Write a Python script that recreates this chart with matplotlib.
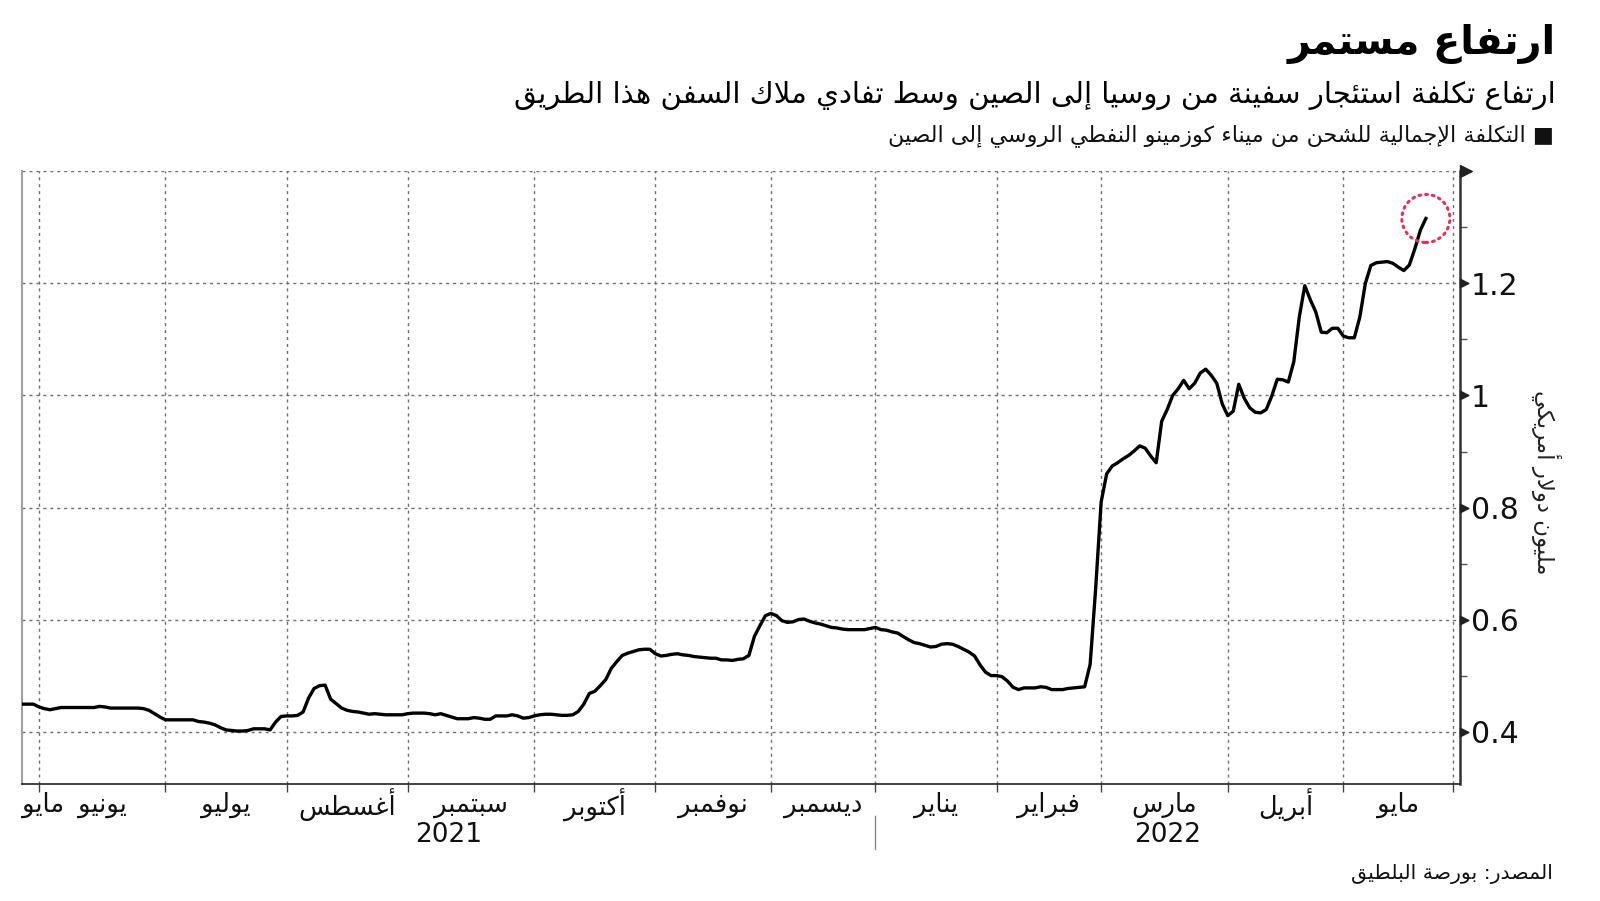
import numpy as np
import matplotlib
matplotlib.use("Agg")
import matplotlib.pyplot as plt
from matplotlib.patches import Circle
from matplotlib.offsetbox import DrawingArea, AnnotationBbox
from matplotlib.path import Path

# ---------------- data ----------------
title = "ارتفاع مستمر"
subtitle = "ارتفاع تكلفة استئجار سفينة من روسيا إلى الصين وسط تفادي ملاك السفن هذا الطريق"
legend_label = "■ التكلفة الإجمالية للشحن من ميناء كوزمينو النفطي الروسي إلى الصين"
y_label = "مليون دولار أمريكي"
source = "المصدر: بورصة البلطيق"

month_names = ["مايو", "يونيو", "يوليو", "أغسطس", "سبتمبر", "أكتوبر", "نوفمبر",
               "ديسمبر", "يناير", "فبراير", "مارس", "أبريل", "مايو"]
# trading days plotted in each month (May 2021 partial ... May 2022)
month_days = [3, 23, 22, 22, 23, 22, 21, 19, 22, 19, 23, 21, 20]
years = ["2021", "2022"]
year_first_month = [0, 8]

# total cost, million USD, one value per trading day
cost = [
    0.449, 0.449, 0.449, 0.444, 0.441, 0.439, 0.441, 0.443, 0.443, 0.443,
    0.443, 0.443, 0.443, 0.443, 0.445, 0.444, 0.442, 0.442, 0.442, 0.442,
    0.442, 0.442, 0.441, 0.438, 0.432, 0.426, 0.421, 0.421, 0.421, 0.421,
    0.421, 0.421, 0.418, 0.417, 0.415, 0.412, 0.407, 0.403, 0.402, 0.401,
    0.401, 0.402, 0.405, 0.405, 0.405, 0.403, 0.417, 0.427, 0.428, 0.428,
    0.429, 0.435, 0.460, 0.477, 0.482, 0.483, 0.458, 0.450, 0.442, 0.438,
    0.436, 0.435, 0.433, 0.431, 0.432, 0.431, 0.430, 0.430, 0.430, 0.430,
    0.432, 0.433, 0.433, 0.433, 0.432, 0.430, 0.432, 0.429, 0.426, 0.423,
    0.423, 0.423, 0.425, 0.424, 0.422, 0.422, 0.428, 0.428, 0.428, 0.430,
    0.428, 0.424, 0.425, 0.428, 0.430, 0.431, 0.431, 0.430, 0.429, 0.429,
    0.430, 0.436, 0.449, 0.468, 0.472, 0.482, 0.493, 0.513, 0.525, 0.536,
    0.540, 0.543, 0.546, 0.547, 0.547, 0.539, 0.535, 0.536, 0.538, 0.539,
    0.537, 0.536, 0.534, 0.533, 0.532, 0.531, 0.531, 0.528, 0.528, 0.527,
    0.529, 0.530, 0.536, 0.570, 0.589, 0.607, 0.611, 0.607, 0.598, 0.595,
    0.596, 0.600, 0.601, 0.597, 0.594, 0.592, 0.589, 0.586, 0.585, 0.583,
    0.582, 0.582, 0.582, 0.582, 0.584, 0.586, 0.582, 0.581, 0.578, 0.576,
    0.570, 0.564, 0.559, 0.557, 0.554, 0.551, 0.552, 0.556, 0.557, 0.556,
    0.552, 0.547, 0.542, 0.535, 0.519, 0.506, 0.500, 0.500, 0.498, 0.490,
    0.479, 0.475, 0.478, 0.478, 0.478, 0.480, 0.479, 0.475, 0.475, 0.475,
    0.477, 0.478, 0.479, 0.480, 0.520, 0.655, 0.810, 0.860, 0.874, 0.880,
    0.887, 0.893, 0.901, 0.910, 0.906, 0.892, 0.880, 0.954, 0.975, 1.000,
    1.012, 1.027, 1.012, 1.022, 1.040, 1.047, 1.036, 1.022, 0.985, 0.964,
    0.972, 1.020, 0.995, 0.978, 0.970, 0.969, 0.975, 0.999, 1.029, 1.028,
    1.024, 1.060, 1.140, 1.196, 1.171, 1.149, 1.113, 1.112, 1.120, 1.120,
    1.106, 1.103, 1.103, 1.140, 1.200, 1.232, 1.237, 1.238, 1.239, 1.236,
    1.229, 1.223, 1.233, 1.262, 1.295, 1.316,
]
y_ticks = [0.4, 0.6, 0.8, 1.0, 1.2, 1.4]
y_tick_labels = ["0.4", "0.6", "0.8", "1", "1.2", ""]
y_minor = [0.5, 0.7, 0.9, 1.1, 1.3]

# ------------- Arabic shaping (presentation forms + visual order) -------------
_FORMS = {
    'ء': (0xFE80, 1), 'آ': (0xFE81, 2), 'أ': (0xFE83, 2), 'ؤ': (0xFE85, 2),
    'إ': (0xFE87, 2), 'ئ': (0xFE89, 4), 'ا': (0xFE8D, 2), 'ب': (0xFE8F, 4),
    'ة': (0xFE93, 2), 'ت': (0xFE95, 4), 'ث': (0xFE99, 4), 'ج': (0xFE9D, 4),
    'ح': (0xFEA1, 4), 'خ': (0xFEA5, 4), 'د': (0xFEA9, 2), 'ذ': (0xFEAB, 2),
    'ر': (0xFEAD, 2), 'ز': (0xFEAF, 2), 'س': (0xFEB1, 4), 'ش': (0xFEB5, 4),
    'ص': (0xFEB9, 4), 'ض': (0xFEBD, 4), 'ط': (0xFEC1, 4), 'ظ': (0xFEC5, 4),
    'ع': (0xFEC9, 4), 'غ': (0xFECD, 4), 'ف': (0xFED1, 4), 'ق': (0xFED5, 4),
    'ك': (0xFED9, 4), 'ل': (0xFEDD, 4), 'م': (0xFEE1, 4), 'ن': (0xFEE5, 4),
    'ه': (0xFEE9, 4), 'و': (0xFEED, 2), 'ى': (0xFEEF, 2), 'ي': (0xFEF1, 4),
}
_LAM_ALEF = {'آ': 0xFEF5, 'أ': 0xFEF7, 'إ': 0xFEF9, 'ا': 0xFEFB}


def ar(text):
    out = []
    i = 0
    prev_joins = False
    while i < len(text):
        c = text[i]
        if c not in _FORMS:
            out.append(c)
            prev_joins = False
            i += 1
            continue
        nxt = text[i + 1] if i + 1 < len(text) else ''
        if c == 'ل' and nxt in _LAM_ALEF:
            out.append(chr(_LAM_ALEF[nxt] + (1 if prev_joins else 0)))
            prev_joins = False
            i += 2
            continue
        start, n = _FORMS[c]
        jp = prev_joins and n >= 2
        jn = n == 4 and nxt in _FORMS and _FORMS[nxt][1] >= 2
        if n == 1:
            f = 0
        elif jp and jn:
            f = 3
        elif jp:
            f = 1
        elif jn:
            f = 2
        else:
            f = 0
        out.append(chr(start + f))
        prev_joins = jn
        i += 1
    return ''.join(out)[::-1]


# ---------------- figure ----------------
W, H = 1600, 901
fig = plt.figure(figsize=(W / 100, H / 100), dpi=100)
fig.patch.set_facecolor("white")
plt.rcParams["font.family"] = ["DejaVu Sans"]

ax_l, ax_r, ax_t, ax_b = 22.4, 1460, 171.4, 783.7
ax = fig.add_axes([ax_l / W, 1 - ax_b / H, (ax_r - ax_l) / W, (ax_b - ax_t) / H])

x = np.arange(len(cost))
bounds = np.concatenate([[0], np.cumsum(month_days)])
ax.set_xlim(0, bounds[-1] + 1.2)
ax.set_ylim(0.307, 1.4)

grid_kw = dict(color="#6e6e6e", lw=1.0, ls=(0, (2.2, 2.8)), zorder=1)
for b in bounds[1:]:
    ax.axvline(b, **grid_kw)
for yt in y_ticks:
    ax.axhline(yt, **grid_kw)

ax.plot(x, cost, color="black", lw=2.4, solid_joinstyle="round", zorder=3)

# spines
ax.spines["top"].set_visible(False)
ax.spines["left"].set_color("#a0a0a0")
ax.spines["left"].set_linewidth(1.5)
ax.spines["bottom"].set_color("#222222")
ax.spines["bottom"].set_linewidth(1.2)
ax.spines["right"].set_color("#333333")
ax.spines["right"].set_linewidth(1.8)

# y axis on the right
ax.yaxis.tick_right()
ax.set_yticks(y_ticks)
ax.set_yticklabels(y_tick_labels)
ax.set_yticks(y_minor, minor=True)
ax.tick_params(axis="y", which="major", length=0, pad=8, labelsize=21.5,
               labelcolor="#111111")
ax.tick_params(axis="y", which="minor", length=5, width=1, color="#555555",
               direction="out")
ax.tick_params(axis="y", left=False, which="both")

tri = Path([(0, -0.5), (0, 0.5), (1, 0), (0, -0.5)],
           [Path.MOVETO, Path.LINETO, Path.LINETO, Path.CLOSEPOLY])
ytrans = ax.get_yaxis_transform()
ax.plot([1.0] * (len(y_ticks) - 1), y_ticks[:-1], ls="none", marker=tri,
        ms=12, color="#222222", transform=ytrans, clip_on=False, zorder=5)
ax.plot([1.0], [y_ticks[-1]], ls="none", marker=tri, ms=17, color="#222222",
        transform=ytrans, clip_on=False, zorder=5)

# x axis
ax.set_xticks(bounds[1:])
ax.set_xticklabels([])
ax.tick_params(axis="x", length=6, width=1, color="#444444", direction="out")

xtrans = ax.get_xaxis_transform()
ax_h = ax_b - ax_t
lab_y = -(805 - ax_b) / ax_h
for i, name in enumerate(month_names):
    if i == 0:
        ax.text(0, lab_y, ar(name), transform=xtrans, ha="left", va="center",
                fontsize=18.5, color="#111111")
    else:
        ax.text((bounds[i] + bounds[i + 1]) / 2, lab_y, ar(name), transform=xtrans,
                ha="center", va="center", fontsize=18.5, color="#111111")

year_y = -(835 - ax_b) / ax_h
year_edges = [0, bounds[year_first_month[1]], bounds[-1] + 1.2]
for k, yr in enumerate(years):
    ax.text((year_edges[k] + year_edges[k + 1]) / 2, year_y, yr, transform=xtrans,
            ha="center", va="center", fontsize=19, color="#111111")
sep = bounds[year_first_month[1]]
ax.plot([sep, sep], [-(816 - ax_b) / ax_h, -(849 - ax_b) / ax_h], color="#888888",
        lw=1, transform=xtrans, clip_on=False)

# y label
ax.text(1546 / W, 1 - 482 / H, ar(y_label), transform=fig.transFigure, rotation=270,
        ha="center", va="center", fontsize=16.5, color="#222222")

# dotted highlight circle around the last value
da = DrawingArea(40, 40, 0, 0)
da.add_artist(Circle((20, 20), 17.3, fill=False, edgecolor="#e0325a", lw=2.2,
                     ls=(0, (0.6, 1.6)), capstyle="round"))
ab = AnnotationBbox(da, (x[-1], cost[-1]), xycoords="data", frameon=False,
                    box_alignment=(0.5, 0.5), pad=0)
ax.add_artist(ab)

# titles
fig.text(1556 / W, 1 - 44 / H, ar(title), ha="right", va="center", fontsize=28.5,
         fontweight="bold", color="black")
fig.text(1556 / W, 1 - 95 / H, ar(subtitle), ha="right", va="center", fontsize=21,
         color="black")
fig.text(1554 / W, 1 - 136 / H, ar(legend_label), ha="right", va="center",
         fontsize=16, color="#111111")
fig.text(1553 / W, 1 - 874 / H, ar(source), ha="right", va="center", fontsize=14.7,
         color="#111111")

fig.savefig("out.png", dpi=100, facecolor="white")
